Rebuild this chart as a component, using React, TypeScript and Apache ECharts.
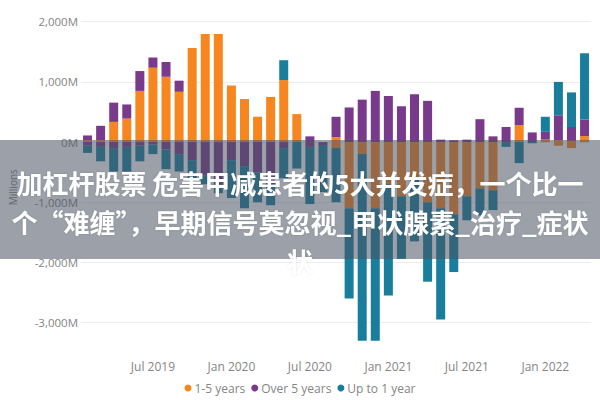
import React, { useEffect, useRef } from 'react';
import * as echarts from 'echarts';

const months = [
  'Feb 2019', 'Mar 2019', 'Apr 2019', 'May 2019', 'Jun 2019', 'Jul 2019', 'Aug 2019', 'Sep 2019', 'Oct 2019', 'Nov 2019', 'Dec 2019',
  'Jan 2020', 'Feb 2020', 'Mar 2020', 'Apr 2020', 'May 2020', 'Jun 2020', 'Jul 2020', 'Aug 2020', 'Sep 2020', 'Oct 2020', 'Nov 2020', 'Dec 2020',
  'Jan 2021', 'Feb 2021', 'Mar 2021', 'Apr 2021', 'May 2021', 'Jun 2021', 'Jul 2021', 'Aug 2021', 'Sep 2021', 'Oct 2021', 'Nov 2021', 'Dec 2021',
  'Jan 2022', 'Feb 2022', 'Mar 2022', 'Apr 2022',
];

const seriesNames = ['1-5 years', 'Over 5 years', 'Up to 1 year'];

// Millions, positive parts
const oneToFivePos = [30, 30, 335, 390, 850, 1235, 1085, 835, 1565, 1795, 1795, 940, 715, 420, 750, 1030, 465, 0, 0, 80, 0, 0, 0, 0, 0, 0, 0, 0, 0, 0, 0, 0, 0, 280, 0, 40, 30, 20, 100];
const overFivePos = [80, 240, 320, 235, 330, 170, 245, 185, 0, 0, 0, 0, 0, 0, 0, 0, 0, 95, 0, 340, 575, 705, 850, 765, 595, 795, 685, 40, 30, 40, 380, 95, 250, 290, 160, 130, 415, 230, 275];
const upToOnePos = [0, 0, 0, 0, 0, 0, 0, 0, 0, 0, 0, 0, 0, 0, 0, 330, 0, 0, 0, 0, 0, 0, 0, 0, 0, 0, 0, 0, 0, 0, 0, 0, 0, 0, 0, 250, 555, 575, 1100];

// Millions, negative parts
const oneToFiveNeg = [0, 0, 0, 0, 0, 0, 0, 0, 0, 0, 0, 0, 0, 0, 0, 0, 0, 0, 0, -100, -1100, -200, -1100, -700, -900, -600, -1000, -1100, -1200, -900, -770, -800, 0, 0, 0, 0, -60, -100, 0];
const overFiveNeg = [-60, -80, -100, -80, -60, -40, -120, -200, -300, -550, -700, -300, -400, -500, -700, -100, 0, -80, -50, 0, 0, 0, 0, 0, 0, 0, 0, 0, 0, 0, 0, 0, 0, 0, 0, 0, 0, 0, 0];
const upToOneNeg = [-120, -240, -390, -410, -260, -160, -330, -290, -300, -150, -150, -630, -700, -500, -350, -500, -440, -950, -780, -900, -1500, -3100, -2200, -1850, -1040, -1050, -1320, -1850, -960, -400, -450, -330, -80, -350, -20, 0, 0, 0, 0];

const titleLines = [
  '加杠杆股票 危害甲减患者的5大并发症，一个比一',
  '个“难缠”，早期信号莫忽视_甲状腺素_治疗_症状',
  '状',
];

const COLORS = ['#F8861F', '#7A3A8B', '#187E9B'];
const FONT = "'Segoe UI', 'Open Sans', sans-serif";
const LABEL = '#858585';

export default function App() {
  const ref = useRef<HTMLDivElement>(null);

  useEffect(() => {
    const chart = echarts.init(ref.current as HTMLDivElement, null, { renderer: 'svg' });
    const mk = (idx: number, data: number[]) => ({
      type: 'bar',
      name: seriesNames[idx],
      stack: 'total',
      barWidth: 9,
      itemStyle: { color: COLORS[idx] },
      emphasis: { disabled: true },
      data: data.map((v) => (v === 0 ? null : v)),
    });

    chart.setOption({
      animation: false,
      textStyle: { fontFamily: FONT },
      grid: { left: 69.3, right: 8.9, top: 21.7, bottom: 47.3, containLabel: false },
      legend: {
        data: seriesNames.map((n, i) => ({ name: n, itemStyle: { color: COLORS[i] } })),
        icon: 'circle',
        itemWidth: 7,
        itemHeight: 7,
        itemGap: 6,
        left: 'center',
        top: 377,
        textStyle: { color: LABEL, fontSize: 12, fontFamily: FONT, padding: [0, 0, 0, -2] },
      },
      xAxis: {
        type: 'category',
        data: months,
        axisLine: { show: false },
        axisTick: { show: false },
        axisLabel: {
          color: LABEL,
          fontSize: 12,
          margin: 8,
          interval: (_i: number, v: string) => v.startsWith('Jan') || v.startsWith('Jul'),
        },
      },
      yAxis: {
        type: 'value',
        min: -3500,
        max: 2000,
        interval: 500,
        name: 'Millions',
        nameLocation: 'middle',
        nameGap: 63,
        nameTextStyle: { color: LABEL, fontSize: 10 },
        axisLine: { show: false },
        axisTick: { show: false },
        axisLabel: {
          color: LABEL,
          fontSize: 11.5,
          margin: 3,
          formatter: (v: number) => (v % 1000 === 0 ? `${v.toLocaleString('en-US')}M` : ''),
        },
        splitLine: {
          show: true,
          showMinLine: true,
          lineStyle: { color: ['rgba(0,0,0,0)', '#ededed'], width: 1 },
        },
      },
      series: [
        mk(0, oneToFivePos),
        mk(1, overFivePos),
        mk(2, upToOnePos),
        mk(0, oneToFiveNeg),
        mk(1, overFiveNeg),
        mk(2, upToOneNeg),
      ],
      graphic: [
        {
          type: 'rect',
          z: 100,
          silent: true,
          shape: { x: 0, y: 140, width: 600, height: 119 },
          style: { fill: 'rgba(72,82,98,0.55)' },
        },
        ...titleLines.map((t, i) => ({
          type: 'text',
          z: 101,
          silent: true,
          x: 300,
          y: 182 + i * 39,
          style: {
            text: t,
            fill: '#ffffff',
            font: "bold 26px 'Noto Sans CJK SC', sans-serif",
            align: 'center',
            verticalAlign: 'middle',
            textShadowColor: 'rgba(0,0,0,0.12)',
            textShadowBlur: 2,
          },
        })),
      ],
    });

    return () => chart.dispose();
  }, []);

  return (
    <div
      ref={ref}
      style={{ position: 'fixed', left: 0, top: 0, width: 600, height: 400, background: '#fff' }}
    />
  );
}
